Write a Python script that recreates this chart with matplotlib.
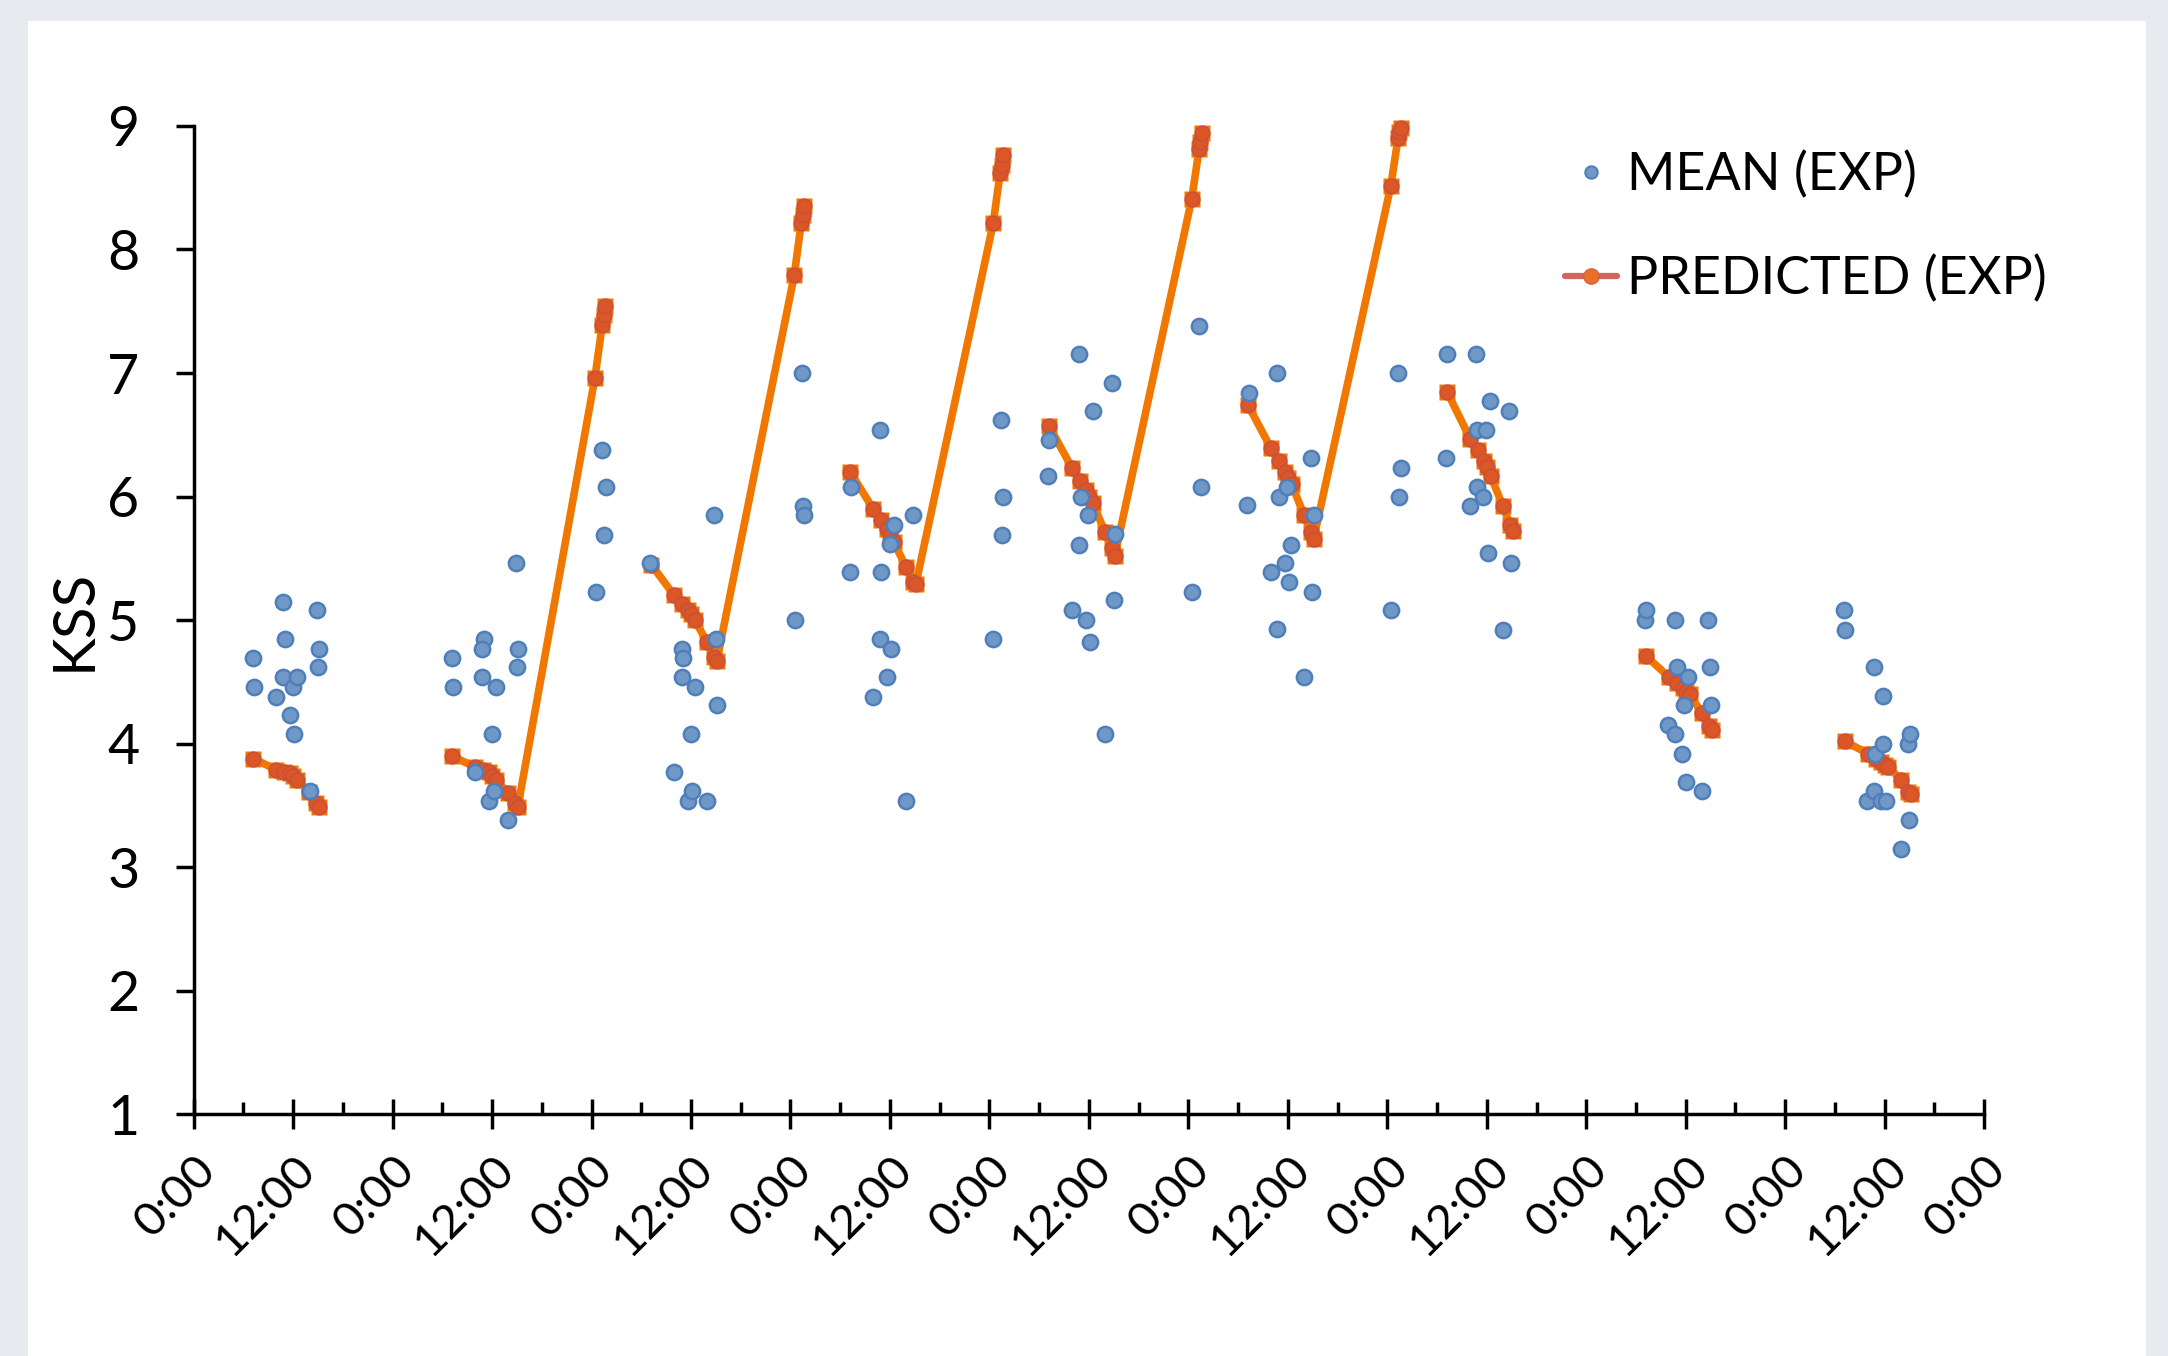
import numpy as np
import matplotlib
matplotlib.use("Agg")
import matplotlib.pyplot as plt
from matplotlib.lines import Line2D
from matplotlib.patches import Rectangle
from matplotlib.ticker import MultipleLocator

plt.rcParams['font.family'] = ['Lato', 'DejaVu Sans']

# time in days from the first 0:00, KSS score
mean_t = [
    # day 0
    0.300, 0.306, 0.416, 0.450, 0.458, 0.450, 0.487, 0.504, 0.500, 0.521, 0.585, 0.618, 0.631, 0.625,
    # day 1
    1.300, 1.306, 1.416, 1.460, 1.452, 1.452, 1.485, 1.498, 1.508, 1.521, 1.581, 1.618, 1.633, 1.625,
    # night 1 + day 2
    2.021, 2.054, 2.062, 2.071,
    2.293, 2.416, 2.453, 2.458, 2.453, 2.486, 2.500, 2.506, 2.520, 2.583, 2.617, 2.625, 2.630,
    # night 2 + day 3
    3.022, 3.056, 3.064, 3.069,
    3.299, 3.304, 3.416, 3.449, 3.449, 3.454, 3.486, 3.500, 3.504, 3.520, 3.583, 3.617,
    # night 3 + day 4
    4.018, 4.056, 4.061, 4.069,
    4.297, 4.300, 4.414, 4.451, 4.451, 4.458, 4.486, 4.498, 4.504, 4.521, 4.581, 4.617, 4.624, 4.632,
    # night 4 + day 5
    5.019, 5.054, 5.066,
    5.297, 5.305, 5.414, 5.448, 5.448, 5.456, 5.484, 5.498, 5.506, 5.518, 5.580, 5.615, 5.624, 5.630,
    # night 5 + day 6
    6.017, 6.054, 6.059, 6.067,
    6.297, 6.302, 6.414, 6.448, 6.451, 6.453, 6.483, 6.498, 6.505, 6.517, 6.581, 6.614, 6.623,
    # day 7
    7.295, 7.302, 7.412, 7.448, 7.448, 7.455, 7.482, 7.490, 7.502, 7.513, 7.581, 7.613, 7.620, 7.626,
    # day 8
    8.295, 8.302, 8.413, 8.448, 8.448, 8.453, 8.482, 8.491, 8.494, 8.508, 8.580, 8.616, 8.622, 8.627,
]
mean_kss = [
    4.69, 4.46, 4.38, 5.15, 4.85, 4.54, 4.23, 4.08, 4.46, 4.54, 3.62, 5.08, 4.77, 4.62,
    4.69, 4.46, 3.77, 4.85, 4.77, 4.54, 3.54, 4.08, 3.62, 4.46, 3.38, 5.46, 4.77, 4.62,
    5.23, 6.38, 5.69, 6.08,
    5.46, 3.77, 4.77, 4.69, 4.54, 3.54, 4.08, 3.62, 4.46, 3.54, 5.85, 4.85, 4.31,
    5.00, 7.00, 5.92, 5.85,
    5.39, 6.08, 4.38, 6.54, 4.85, 5.39, 4.54, 5.62, 4.77, 5.77, 3.54, 5.85,
    4.85, 6.62, 5.69, 6.00,
    6.17, 6.46, 5.08, 7.15, 5.61, 6.00, 5.00, 5.85, 4.82, 6.69, 4.08, 6.92, 5.16, 5.70,
    5.23, 7.38, 6.08,
    5.93, 6.84, 5.39, 7.00, 4.93, 6.00, 5.46, 6.08, 5.31, 5.61, 4.54, 6.31, 5.23, 5.85,
    5.08, 7.00, 6.00, 6.23,
    6.31, 7.15, 5.92, 7.15, 6.08, 6.54, 6.00, 6.54, 5.54, 6.77, 4.92, 6.69, 5.46,
    5.00, 5.08, 4.15, 5.00, 4.08, 4.62, 3.92, 4.31, 3.69, 4.54, 3.62, 5.00, 4.62, 4.31,
    5.08, 4.92, 3.54, 4.62, 3.62, 3.92, 3.54, 4.39, 4.00, 3.54, 3.15, 4.00, 3.38, 4.08,
]

# predicted curve, nan = gap in the line
nan = np.nan
pred_t = [
    0.300, 0.416, 0.454, 0.484, 0.501, 0.519, 0.582, 0.617, 0.630, nan,
    1.300, 1.416, 1.454, 1.484, 1.501, 1.519, 1.582, 1.617, 1.630, 2.017, 2.054, 2.061, 2.069, nan,
    2.300, 2.416, 2.454, 2.484, 2.501, 2.519, 2.582, 2.617, 2.630, 3.019, 3.054, 3.061, 3.069, nan,
    3.300, 3.416, 3.454, 3.484, 3.501, 3.519, 3.582, 3.617, 3.630, 4.019, 4.054, 4.061, 4.069, nan,
    4.300, 4.416, 4.454, 4.484, 4.501, 4.519, 4.582, 4.617, 4.630, 5.017, 5.054, 5.061, 5.069, nan,
    5.300, 5.416, 5.454, 5.484, 5.501, 5.519, 5.582, 5.617, 5.630, 6.017, 6.054, 6.061, 6.069, nan,
    6.300, 6.416, 6.454, 6.484, 6.501, 6.519, 6.582, 6.617, 6.630, nan,
    7.300, 7.416, 7.454, 7.484, 7.501, 7.519, 7.582, 7.617, 7.630, nan,
    8.300, 8.416, 8.454, 8.484, 8.501, 8.519, 8.582, 8.617, 8.630,
]
pred_kss = [
    3.88, 3.79, 3.77, 3.76, 3.74, 3.71, 3.61, 3.52, 3.49, nan,
    3.90, 3.81, 3.79, 3.77, 3.74, 3.71, 3.60, 3.52, 3.49, 6.96, 7.39, 7.47, 7.54, nan,
    5.45, 5.20, 5.13, 5.08, 5.05, 5.00, 4.82, 4.70, 4.67, 7.79, 8.21, 8.28, 8.35, nan,
    6.20, 5.90, 5.81, 5.74, 5.69, 5.63, 5.43, 5.31, 5.29, 8.21, 8.62, 8.68, 8.76, nan,
    6.57, 6.23, 6.13, 6.05, 6.00, 5.95, 5.71, 5.58, 5.52, 8.41, 8.81, 8.87, 8.94, nan,
    6.74, 6.39, 6.29, 6.20, 6.15, 6.10, 5.85, 5.71, 5.66, 8.51, 8.90, 8.95, 8.98, nan,
    6.85, 6.47, 6.38, 6.29, 6.24, 6.17, 5.92, 5.77, 5.72, nan,
    4.71, 4.54, 4.49, 4.45, 4.42, 4.40, 4.25, 4.14, 4.11, nan,
    4.02, 3.92, 3.88, 3.85, 3.83, 3.81, 3.71, 3.61, 3.59,
]

x_ticks = np.arange(0, 9.01, 0.5)
x_labels = ["0:00" if i % 2 == 0 else "12:00" for i in range(len(x_ticks))]
y_ticks = [1, 2, 3, 4, 5, 6, 7, 8, 9]

BLUE_FILL = "#7098C6"
BLUE_EDGE = "#4F7FBA"
LINE_ORANGE = "#F07800"
DOT_RED = "#DD5626"

fig = plt.figure(figsize=(21.68, 13.56), dpi=100)
fig.patch.set_facecolor("#E7EAEE")
fig.add_artist(Rectangle((28 / 2168, 0), (2146 - 28) / 2168, (1356 - 21) / 1356,
                         transform=fig.transFigure, facecolor="white", edgecolor="none", zorder=0))

ax = fig.add_axes([0.0893, 0.1781, 0.8259, 0.7291])
ax.set_facecolor("white")

# predicted: orange line, squares behind red dots (as in the source render)
ax.plot(pred_t, pred_kss, color=LINE_ORANGE, lw=5.5, zorder=2, clip_on=False)
ax.plot(pred_t, pred_kss, ls="none", marker="s", ms=12, mfc=LINE_ORANGE, mec="none",
        zorder=3, clip_on=False)
ax.plot(pred_t, pred_kss, ls="none", marker="o", ms=10.5, mfc=DOT_RED, mec="#C8503C", mew=1.2,
        zorder=4, clip_on=False)

ax.plot(mean_t, mean_kss, ls="none", marker="o", ms=11, mfc=BLUE_FILL, mec=BLUE_EDGE, mew=1.8,
        zorder=5, clip_on=False)

ax.set_xlim(0, 9)
ax.set_ylim(1, 9)
ax.set_xticks(x_ticks)
ax.set_xticklabels(x_labels, rotation=45, ha="right", va="top", rotation_mode="anchor", fontsize=34)
ax.xaxis.set_minor_locator(MultipleLocator(0.25))
ax.set_yticks(y_ticks)
ax.set_yticklabels([str(v) for v in y_ticks], fontsize=40)

for side in ["top", "right"]:
    ax.spines[side].set_visible(False)
for side in ["left", "bottom"]:
    ax.spines[side].set_linewidth(2.5)
    ax.spines[side].set_color("black")

ax.tick_params(axis="x", which="major", direction="inout", length=21, width=2.5, pad=14)
ax.tick_params(axis="x", which="minor", direction="in", length=8.5, width=2.5)
ax.tick_params(axis="y", direction="out", length=13, width=2.5, pad=26)

ax.set_ylabel("KSS", fontsize=42)
ax.yaxis.set_label_coords(-0.052, 0.5)

handles = [
    Line2D([], [], ls="none", marker="o", ms=9, mfc=BLUE_FILL, mec=BLUE_EDGE, mew=1.4),
    Line2D([], [], color="#D0675C", lw=4.5, solid_capstyle="round", marker="o", ms=11,
           mfc="#E8702A", mec="#D9603A"),
]
fig.legend(handles, ["MEAN (EXP)", "PREDICTED (EXP)"], loc="upper left",
           bbox_to_anchor=(0.7219, 0.8885), frameon=False, fontsize=37.5,
           handlelength=1.0, handletextpad=0.18, labelspacing=1.06, borderpad=0, borderaxespad=0)

fig.savefig("out.png", dpi=100, facecolor=fig.get_facecolor())
